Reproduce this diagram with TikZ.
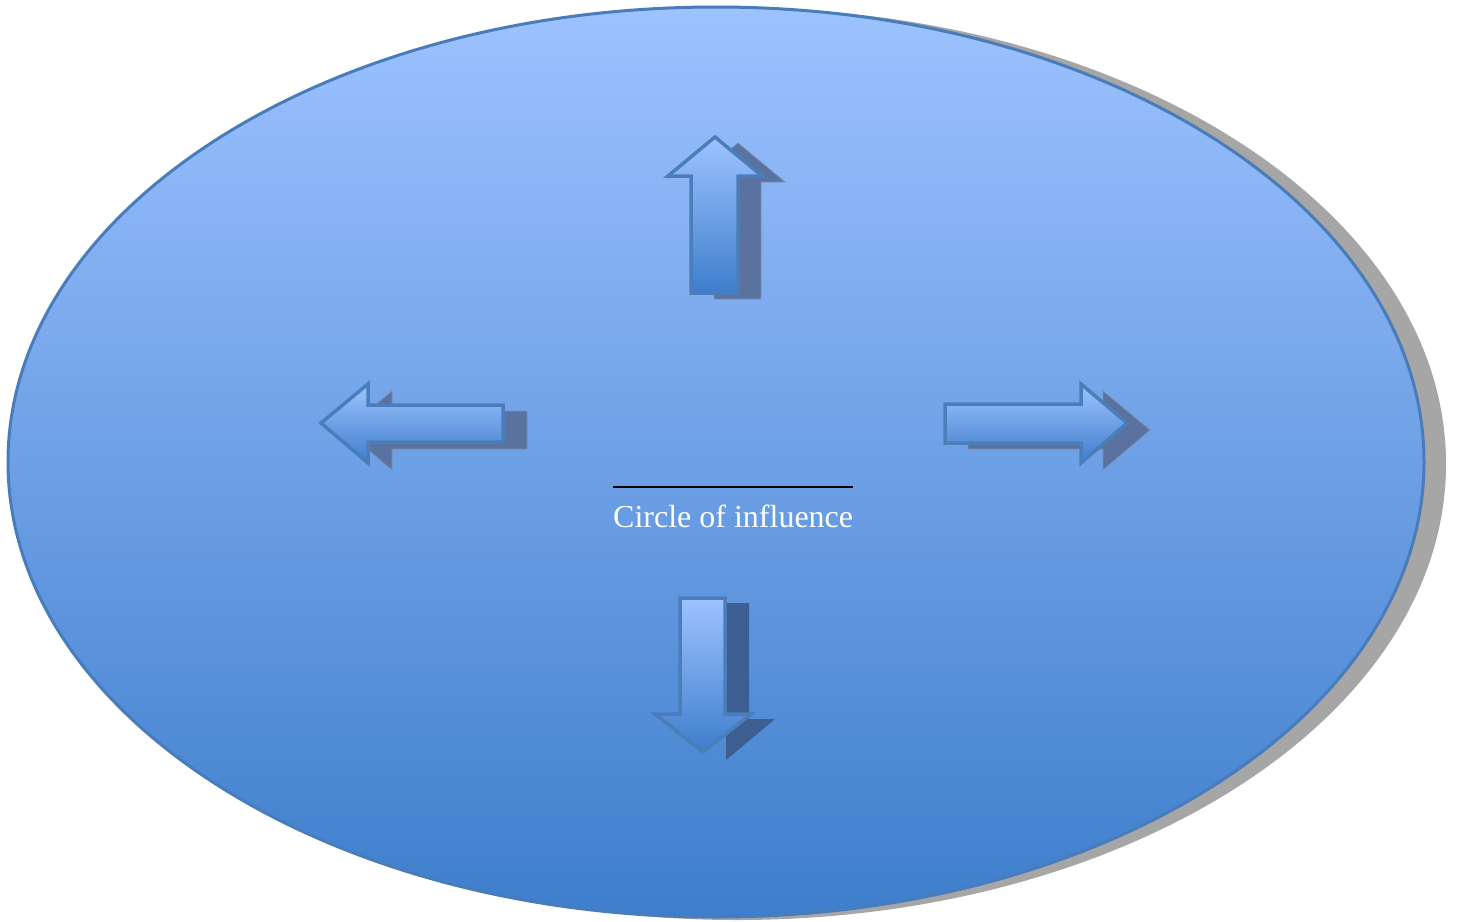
\documentclass[tikz,border=0pt]{standalone}
\usepackage{fontspec}
\setmainfont{Liberation Serif}
\definecolor{ellTop}{RGB}{157,194,255}
\definecolor{ellBot}{RGB}{62,126,204}
\definecolor{ellLine}{RGB}{72,124,186}
\definecolor{shadowGray}{RGB}{166,166,166}
\definecolor{arrTop}{RGB}{158,195,255}
\definecolor{arrBot}{RGB}{62,126,204}
\definecolor{arrLine}{RGB}{74,126,187}
\definecolor{arrShadow}{RGB}{90,114,160}
\definecolor{arrShadowDark}{RGB}{60,94,144}
\tikzset{
  ellbody/.style={draw=ellLine, line width=3pt, top color=ellTop, bottom color=ellBot},
  ellshadow/.style={fill=shadowGray},
  arrbody/.style={draw=arrLine, line width=3.5pt, line join=miter, top color=arrTop, bottom color=arrBot},
  arrshade/.style={fill=arrShadow, draw=arrShadow!80!white, line width=0.8pt},
  label/.style={inner sep=0pt, text=white, font=\fontsize{32}{38}\selectfont}
}
\begin{document}
\begin{tikzpicture}[x=1pt,y=-1pt]
\useasboundingbox (0,0) rectangle (1458,921);
% ellipse shadow and body
\fill[ellshadow] (737,464) ellipse [x radius=709, y radius=456];
\path[ellbody] (716,462) ellipse [x radius=708, y radius=455];
% up arrow
\path[arrshade] (738,143) -- (785,182) -- (761,182) -- (761,299) -- (714,299) -- (714,182) -- (691,182) -- cycle;
\path[arrbody] (715,137) -- (762,176) -- (738,176) -- (738,293) -- (691,293) -- (691,176) -- (668,176) -- cycle;
% left arrow
\path[arrshade] (345,430) -- (392,391) -- (392,411) -- (527,411) -- (527,449) -- (392,449) -- (392,470) -- cycle;
\path[arrbody] (321,423) -- (368,384) -- (368,405) -- (503,405) -- (503,442) -- (368,442) -- (368,463) -- cycle;
% right arrow
\path[arrshade] (1150,430) -- (1103,391) -- (1103,411) -- (968,411) -- (968,449) -- (1103,449) -- (1103,470) -- cycle;
\path[arrbody] (1127,423) -- (1081,384) -- (1081,404) -- (945,404) -- (945,443) -- (1081,443) -- (1081,463) -- cycle;
% down arrow
\path[fill=arrShadowDark] (726,760) -- (775,719) -- (749,719) -- (749,603) -- (726,603) -- cycle;
\path[arrbody] (703,752) -- (751,714) -- (725,714) -- (725,598) -- (680,598) -- (680,714) -- (655,714) -- cycle;
% label
\node[label, anchor=base west] (lab) at (613,527) {Circle of influence};
\draw[black, line width=1.5pt] (lab.west |- 0,487) -- (lab.east |- 0,487);
\end{tikzpicture}
\end{document}
